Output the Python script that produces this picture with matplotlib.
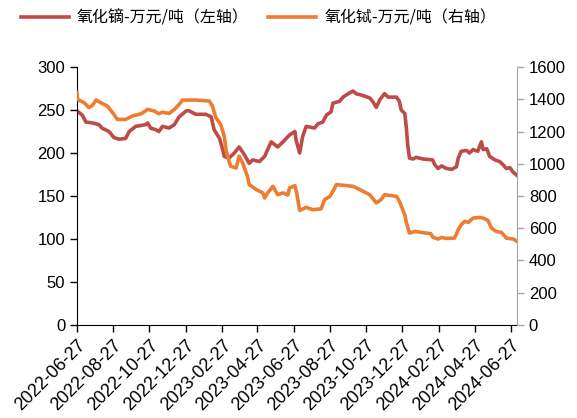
import matplotlib
matplotlib.use('Agg')
import matplotlib.pyplot as plt
import matplotlib.dates as mdates
import pandas as pd

plt.rcParams['font.family'] = ['Liberation Sans', 'Noto Sans CJK SC', 'DejaVu Sans']

# 氧化镝 (万元/吨, left axis)
dy_dates = ['2022-06-27', '2022-07-06', '2022-07-12', '2022-07-23', '2022-08-03', '2022-08-08',
            '2022-08-20', '2022-08-28', '2022-09-06', '2022-09-17', '2022-09-23', '2022-10-04',
            '2022-10-21', '2022-10-24', '2022-10-29', '2022-11-07', '2022-11-12', '2022-11-18',
            '2022-11-29', '2022-12-08', '2022-12-16', '2022-12-28', '2023-01-02', '2023-01-13',
            '2023-01-30', '2023-02-08', '2023-02-13', '2023-02-22', '2023-02-27', '2023-03-02',
            '2023-03-10', '2023-03-19', '2023-03-27', '2023-04-05', '2023-04-13', '2023-04-19',
            '2023-04-30', '2023-05-09', '2023-05-20', '2023-05-31', '2023-06-09', '2023-06-20',
            '2023-06-29', '2023-07-01', '2023-07-07', '2023-07-12', '2023-07-18', '2023-08-01',
            '2023-08-07', '2023-08-15', '2023-08-21', '2023-08-29', '2023-09-01', '2023-09-12',
            '2023-09-18', '2023-09-29', '2023-10-05', '2023-10-10', '2023-10-21', '2023-11-02',
            '2023-11-07', '2023-11-13', '2023-11-19', '2023-11-27', '2023-12-03', '2023-12-17',
            '2023-12-22', '2023-12-25', '2023-12-31', '2024-01-03', '2024-01-05', '2024-01-08',
            '2024-01-14', '2024-01-19', '2024-01-31', '2024-02-16', '2024-02-19', '2024-02-25',
            '2024-03-02', '2024-03-10', '2024-03-19', '2024-03-27', '2024-03-30', '2024-04-04',
            '2024-04-13', '2024-04-18', '2024-04-24', '2024-05-02', '2024-05-08', '2024-05-11',
            '2024-05-17', '2024-05-22', '2024-05-31', '2024-06-08', '2024-06-14', '2024-06-19',
            '2024-06-25', '2024-06-30', '2024-07-07']
dy_vals = [249, 244, 236, 235, 233, 229,
           225, 218, 216, 217, 225, 231,
           233, 235, 229, 227, 225, 231,
           229, 233, 242, 249, 249, 245,
           245, 242, 227, 217, 205, 196,
           194, 200, 207, 198, 188, 192,
           190, 196, 213, 207, 213, 221,
           225, 215, 200, 219, 231, 229,
           234, 236, 244, 248, 258, 260,
           265, 270, 272, 269, 267, 264,
           260, 253, 262, 269, 265, 265,
           260, 250, 246, 227, 209, 194,
           193, 195, 193, 192, 187, 182,
           185, 182, 181, 184, 194, 202,
           203, 200, 204, 202, 213, 204,
           205, 196, 192, 190, 186, 182,
           183, 178, 174]

# 氧化铽 (万元/吨, right axis)
tb_dates = ['2022-06-27', '2022-06-28', '2022-07-09', '2022-07-17', '2022-07-23', '2022-07-29',
            '2022-08-06', '2022-08-17', '2022-08-26', '2022-09-03', '2022-09-17', '2022-09-28',
            '2022-10-13', '2022-10-24', '2022-11-04', '2022-11-12', '2022-11-18', '2022-11-29',
            '2022-12-08', '2022-12-16', '2022-12-22', '2023-01-13', '2023-02-05', '2023-02-10',
            '2023-02-16', '2023-02-24', '2023-03-02', '2023-03-05', '2023-03-10', '2023-03-13',
            '2023-03-22', '2023-03-27', '2023-04-02', '2023-04-10', '2023-04-13', '2023-04-25',
            '2023-05-06', '2023-05-09', '2023-05-14', '2023-05-23', '2023-05-31', '2023-06-09',
            '2023-06-17', '2023-06-20', '2023-06-29', '2023-07-02', '2023-07-07', '2023-07-18',
            '2023-07-29', '2023-08-12', '2023-08-18', '2023-08-27', '2023-09-01', '2023-09-07',
            '2023-10-05', '2023-10-16', '2023-11-02', '2023-11-13', '2023-11-21', '2023-11-27',
            '2023-12-17', '2023-12-22', '2023-12-31', '2024-01-03', '2024-01-08', '2024-01-17',
            '2024-02-13', '2024-02-16', '2024-02-25', '2024-03-02', '2024-03-10', '2024-03-24',
            '2024-03-30', '2024-04-04', '2024-04-10', '2024-04-16', '2024-04-24', '2024-05-05',
            '2024-05-11', '2024-05-19', '2024-05-25', '2024-06-02', '2024-06-11', '2024-06-19',
            '2024-07-01', '2024-07-07']
tb_vals = [1441, 1399, 1379, 1348, 1362, 1395,
           1379, 1358, 1317, 1275, 1275, 1296,
           1310, 1337, 1327, 1310, 1320, 1312,
           1337, 1368, 1395, 1395, 1389, 1358,
           1285, 1244, 1171, 1088, 1016, 984,
           974, 1047, 1005, 922, 871, 840,
           819, 788, 819, 860, 808, 819,
           806, 850, 864, 819, 710, 730,
           715, 720, 777, 798, 829, 871,
           860, 840, 808, 757, 777, 808,
           798, 767, 684, 632, 570, 580,
           566, 545, 533, 543, 537, 539,
           591, 622, 643, 636, 663, 667,
           663, 649, 601, 580, 574, 539,
           533, 518]

tick_dates = ['2022-06-27', '2022-08-27', '2022-10-27', '2022-12-27', '2023-02-27', '2023-04-27',
              '2023-06-27', '2023-08-27', '2023-10-27', '2023-12-27', '2024-02-27', '2024-04-27',
              '2024-06-27']

red = '#BE4B48'
orange = '#ED7D31'

fig = plt.figure(figsize=(5.77, 4.18), dpi=100)
ax = fig.add_axes([0.1334, 0.2225, 0.7626, 0.6172])
ax2 = ax.twinx()

l1, = ax.plot(pd.to_datetime(dy_dates), dy_vals, color=red, linewidth=2.6,
              label='氧化镝-万元/吨（左轴）')
l2, = ax2.plot(pd.to_datetime(tb_dates), tb_vals, color=orange, linewidth=2.6,
               label='氧化铽-万元/吨（右轴）')

ax.set_xlim(pd.Timestamp('2022-06-27'), pd.Timestamp('2024-07-07'))
ax.set_ylim(0, 300)
ax.set_yticks(range(0, 301, 50))
ax2.set_ylim(0, 1600)
ax2.set_yticks(range(0, 1601, 200))

ax.set_xticks(pd.to_datetime(tick_dates))
ax.xaxis.set_major_formatter(mdates.DateFormatter('%Y-%m-%d'))
for lab in ax.get_xticklabels():
    lab.set_rotation(45)
    lab.set_ha('right')
    lab.set_rotation_mode('anchor')

for a in (ax, ax2):
    a.spines['top'].set_visible(False)
ax.spines['right'].set_visible(False)
ax2.spines['left'].set_visible(False)
ax2.spines['bottom'].set_visible(False)
ax2.spines['right'].set_color('#A6A6A6')

ax.tick_params(axis='y', labelsize=12, length=5, width=1, direction='out', colors='black')
ax.tick_params(axis='x', labelsize=13, length=5, width=1, direction='out', colors='black')
ax2.tick_params(axis='y', labelsize=12, length=5, width=1, direction='out', color='#A6A6A6',
                labelcolor='black')

fig.legend(handles=[l1, l2], loc='center', bbox_to_anchor=(0.448, 0.957), ncol=2, frameon=False,
           prop={'family': ['Noto Sans CJK SC', 'DejaVu Sans'], 'size': 11.5},
           handlelength=3.0, handletextpad=0.5, columnspacing=1.25, borderpad=0.2)

fig.savefig('out.png', dpi=100)
